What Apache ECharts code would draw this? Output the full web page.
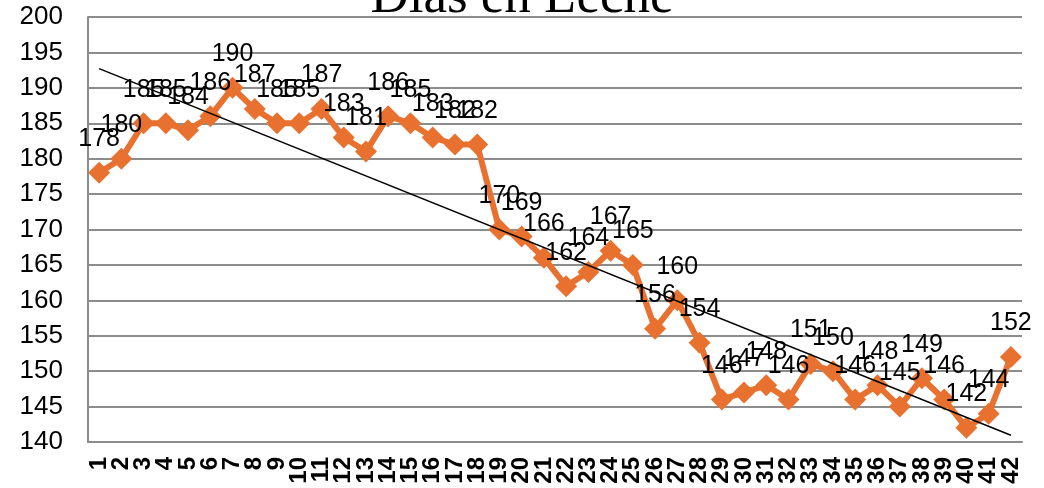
<!DOCTYPE html>
<html>
<head>
<meta charset="utf-8">
<script src="https://cdn.jsdelivr.net/npm/echarts@6/dist/echarts.min.js"></script>
<style>
  html, body { margin: 0; padding: 0; background: #fff; }
  #chart { width: 1044px; height: 488px; }
</style>
</head>
<body>
<div id="chart"></div>
<script>
const days = [];
for (let i = 1; i <= 42; i++) days.push(String(i));
const values = [178, 180, 185, 185, 184, 186, 190, 187, 185, 185, 187, 183, 181, 186, 185, 183, 182, 182,
  170, 169, 166, 162, 164, 167, 165, 156, 160, 154, 146, 147, 148, 146, 151, 150, 146, 148, 145, 149,
  146, 142, 144, 152];

// linear trend (least squares) over the series
const n = values.length;
let sx = 0, sy = 0, sxy = 0, sxx = 0;
values.forEach((v, i) => {
  const x = i + 1;
  sx += x; sy += v; sxy += x * v; sxx += x * x;
});
const slope = (n * sxy - sx * sy) / (n * sxx - sx * sx);
const intercept = (sy - slope * sx) / n;

const chart = echarts.init(document.getElementById('chart'));
chart.setOption({
  animation: false,
  title: {
    text: 'Días en Leche',
    left: 'center',
    top: -33,
    textStyle: { fontFamily: 'Liberation Serif', fontSize: 53, fontWeight: 'normal', color: '#000' }
  },
  grid: { left: 88, right: 22, top: 17, bottom: 46 },
  xAxis: {
    type: 'category',
    data: days,
    boundaryGap: true,
    axisLine: { lineStyle: { color: '#8c8c8c', width: 2 } },
    axisTick: { show: false },
    axisLabel: {
      rotate: 90, interval: 0, color: '#000', fontWeight: 'bold',
      fontFamily: 'Liberation Sans', fontSize: 24, margin: 15
    }
  },
  yAxis: {
    type: 'value',
    min: 140, max: 200, interval: 5,
    axisLine: { show: true, lineStyle: { color: '#8c8c8c', width: 2 } },
    axisTick: { show: false },
    splitLine: { lineStyle: { color: '#8c8c8c', width: 2 } },
    axisLabel: { color: '#000', fontFamily: 'Liberation Sans', fontSize: 26, margin: 25 }
  },
  series: [{
    type: 'line',
    data: values,
    symbol: 'diamond',
    symbolSize: 22,
    lineStyle: { color: '#E8712F', width: 6 },
    itemStyle: { color: '#E8712F' },
    label: {
      show: true, position: 'top', distance: 10,
      color: '#000', fontFamily: 'Liberation Sans', fontSize: 25
    },
    z: 3
  }, {
    type: 'line',
    data: [],
    markLine: {
      silent: true,
      symbol: 'none',
      label: { show: false },
      lineStyle: { color: '#000', width: 1.5, type: 'solid' },
      data: [[
        { coord: ['1', intercept + slope * 1] },
        { coord: ['42', intercept + slope * 42] }
      ]]
    },
    z: 4
  }]
});
</script>
</body>
</html>
